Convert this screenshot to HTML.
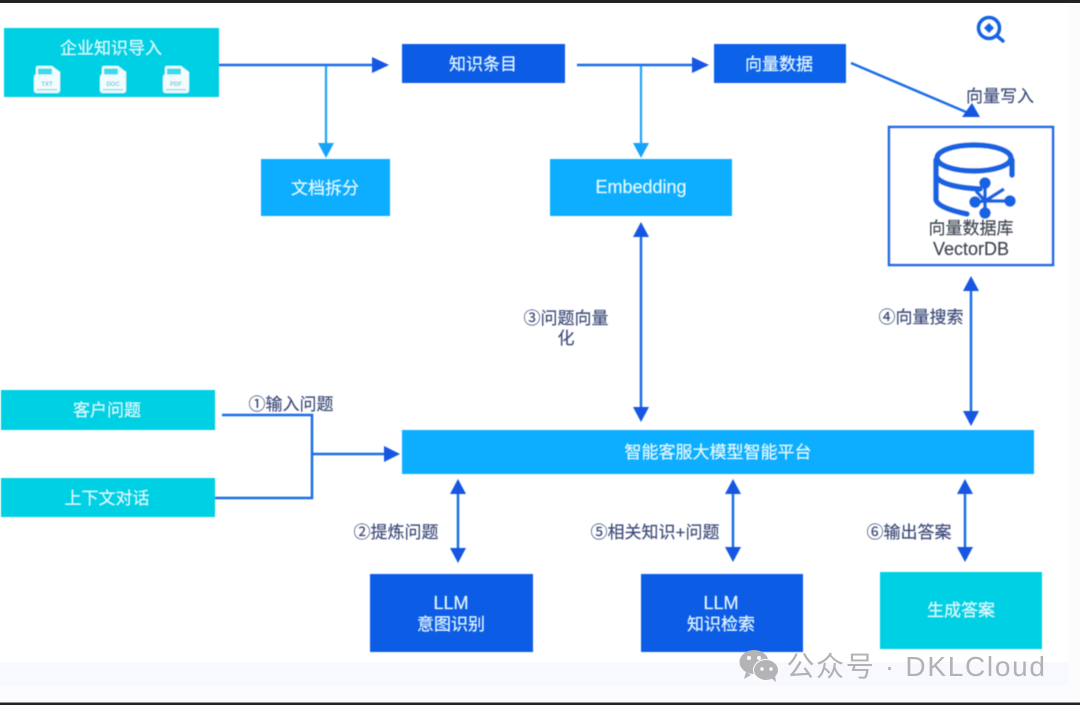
<!DOCTYPE html>
<html lang="zh"><head><meta charset="utf-8">
<style>
html,body{margin:0;padding:0;background:#fff}
svg{display:block}
text{font-family:"Liberation Sans","Noto Sans CJK SC",sans-serif;text-anchor:middle;font-size:17px}
.w{fill:#e4f8fd;stroke:#e4f8fd;stroke-width:.2}
.d{fill:#3c4a78;stroke:#3c4a78;stroke-width:.15}
.k{fill:#3f4652;stroke:#3f4652;stroke-width:.15}
.f{font-size:6px;font-weight:bold;fill:#7cc6d4}
</style></head><body>
<svg width="1080" height="709" viewBox="0 0 1080 709" xmlns="http://www.w3.org/2000/svg">
<defs>
<filter id="b" x="-5%" y="-5%" width="110%" height="110%"><feGaussianBlur stdDeviation="0.6"/></filter>
<filter id="t" x="-5%" y="-20%" width="110%" height="140%"><feGaussianBlur stdDeviation="0.5"/></filter>
<g id="doc">
<path d="M4 0H18L26 6V24Q26 27 23 27H3Q0 27 0 24V12Q0 9 2 8V2Q2 0 4 0Z" fill="#f1fcfe"/>
<rect x="4" y="2.5" width="14" height="6" fill="#02d0e3" opacity=".75"/>
<rect x="3" y="23" width="20" height="1.4" fill="#8fdfe8"/>
</g>
</defs>
<rect width="1080" height="709" fill="#fff"/>
<rect x="0" y="662" width="1068" height="24" fill="#f8f9fe"/>
<rect x="1068" y="5" width="12" height="697" fill="#fcfcfe"/>
<rect x="0" y="686" width="1080" height="16" fill="#fcfcfe"/>
<rect x="0" y="0" width="1080" height="3" fill="#222"/>
<rect x="0" y="702.5" width="1080" height="2.5" fill="#222"/>
<g filter="url(#b)">
<rect x="4" y="28" width="215" height="69" fill="#02d0e3"/>
<rect x="402" y="44" width="163" height="39" fill="#0f5ce6"/>
<rect x="714" y="44" width="132" height="39" fill="#0f62ea"/>
<rect x="261" y="159" width="129" height="57" fill="#0aaeff"/>
<rect x="550" y="159" width="182" height="57" fill="#0aaeff"/>
<rect x="889" y="127" width="164" height="138" fill="#fff" stroke="#1b6ae4" stroke-width="2.5"/>
<rect x="1" y="390" width="214" height="40" fill="#02d0e3"/>
<rect x="1" y="478" width="214" height="39" fill="#02d0e3"/>
<rect x="402" y="430" width="632" height="44" fill="#0aaeff"/>
<rect x="370" y="574" width="163" height="78" fill="#0f5ce6"/>
<rect x="641" y="574" width="162" height="78" fill="#0f5ce6"/>
<rect x="880" y="572" width="162" height="77" fill="#02d0e3"/>
<use href="#doc" x="34" y="66"/>
<use href="#doc" x="100" y="66"/>
<use href="#doc" x="163" y="66"/>
<text class="f" x="47" y="86">TXT</text>
<text class="f" x="113" y="86">DOC</text>
<text class="f" x="176" y="86">PDF</text>
<g fill="none" stroke="#1b6de6" stroke-width="2.5">
<path d="M219 65H374"/>
<path d="M577 65H696"/>
<path d="M851 63L966 112"/>
<path d="M222 415H312V498H215"/>
<path d="M312 454H386"/>
<path d="M641 237V407"/>
<path d="M971 291V411"/>
<path d="M458 494V548"/>
<path d="M733 494V547"/>
<path d="M965 494V547"/>
</g>
<g fill="none" stroke="#1da6f6" stroke-width="2.2">
<path d="M326 66V146"/>
<path d="M641 66V146"/>
</g>
<g fill="#1257e2">
<path d="M372 57L389 65L372 73Z"/>
<path d="M692 57L709 65L692 73Z"/>
<path d="M962 117L980 117L972 103Z"/>
<path d="M384 446L400 454L384 462Z"/>
<path d="M633 237L641 222L649 237Z"/><path d="M633 407L641 422L649 407Z"/>
<path d="M963 291L971 276L979 291Z"/><path d="M963 411L971 426L979 411Z"/>
<path d="M450 494L458 479L466 494Z"/><path d="M450 548L458 563L466 548Z"/>
<path d="M725 494L733 479L741 494Z"/><path d="M725 547L733 562L741 547Z"/>
<path d="M957 494L965 479L973 494Z"/><path d="M957 547L965 562L973 547Z"/>
</g>
<g fill="#19a4fa">
<path d="M318 143L334 143L326 158Z"/>
<path d="M633 143L649 143L641 158Z"/>
</g>
<g fill="none" stroke="#1464e2" stroke-width="5.5" stroke-linecap="round">
<ellipse cx="974" cy="158" rx="37" ry="13"/>
<path d="M936 160V200Q938 208 967 214"/>
<path d="M937 178Q945 187 980 189"/>
<path d="M1012 160V175"/>
<circle cx="989" cy="28" r="10.5" stroke-width="3.5"/>
<path d="M997 36L1003 41" stroke-width="3.5"/>
</g>
<path d="M989 23L994 28L989 33L984 28Z" fill="#1464e2"/>
<g stroke="#1464e2" stroke-width="3.5" fill="#1464e2">
<path d="M985 186V212M985 201L976 202M985 201L1009 201M985 201L1004 189M985 201L976 191" fill="none"/>
<circle cx="985" cy="183" r="4"/><circle cx="985" cy="213" r="4"/><circle cx="975" cy="202" r="4"/><circle cx="1010" cy="201" r="4"/>
</g>
</g>
<g filter="url(#t)">
<text class="w" x="111" y="54">企业知识导入</text>
<text class="w" x="483" y="70">知识条目</text>
<text class="w" x="779" y="70">向量数据</text>
<text class="w" x="325" y="194">文档拆分</text>
<text class="w" x="641" y="193" style="font-size:18px">Embedding</text>
<text class="k" x="971" y="234">向量数据库</text>
<text class="k" x="971" y="255" style="font-size:18px">VectorDB</text>
<text class="d" x="1000" y="102">向量写入</text>
<text class="d" x="566" y="324">③问题向量</text>
<text class="d" x="566" y="344">化</text>
<text class="d" x="921" y="323">④向量搜索</text>
<text class="d" x="291" y="410">①输入问题</text>
<text class="w" x="107" y="416">客户问题</text>
<text class="w" x="107" y="504">上下文对话</text>
<text class="w" x="718" y="458">智能客服大模型智能平台</text>
<text class="d" x="396" y="538">②提炼问题</text>
<text class="d" x="655" y="538">⑤相关知识+问题</text>
<text class="d" x="909" y="538">⑥输出答案</text>
<text class="w" x="451" y="609" style="font-size:18px">LLM</text>
<text class="w" x="451" y="630">意图识别</text>
<text class="w" x="721" y="609" style="font-size:18px">LLM</text>
<text class="w" x="721" y="630">知识检索</text>
<text class="w" x="961" y="616">生成答案</text>
</g>
<g fill="#b4b4b6">
<ellipse cx="754" cy="662" rx="14.5" ry="12"/>
<ellipse cx="766" cy="670" rx="12.5" ry="10.5" stroke="#fff" stroke-width="1"/>
<path d="M746 672l-2 7 7-4z"/><path d="M771 678l5 4-1-7z"/>
</g>
<g fill="#fff"><circle cx="749" cy="658" r="2"/><circle cx="759" cy="658" r="2"/><circle cx="762" cy="669" r="1.7"/><circle cx="771" cy="669" r="1.7"/></g>
<text x="916.5" y="676" style="font-size:28px;fill:#b2b2b4;letter-spacing:1.7px">公众号 · DKLCloud</text>
</svg>
</body></html>
